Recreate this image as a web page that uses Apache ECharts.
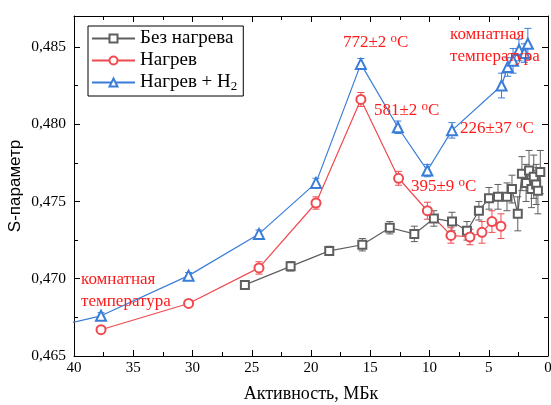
<!DOCTYPE html>
<html><head><meta charset="utf-8">
<script src="https://cdn.jsdelivr.net/npm/echarts@6/dist/echarts.min.js"></script>
<style>html,body{margin:0;padding:0;background:#fff}#c{width:551px;height:405px}</style>
</head><body><div id="c"></div>
<script>
// Без нагрева
const noHeatX = [25.58, 21.72, 18.46, 15.67, 13.35, 11.28, 9.63, 8.10, 6.84, 5.83, 4.98, 4.22, 3.46, 3.04, 2.55, 2.20, 1.85, 1.60, 1.40, 1.20, 1.00, 0.85, 0.65];
const noHeatY = [0.4696, 0.4708, 0.4718, 0.4722, 0.4733, 0.4729, 0.4739, 0.4737, 0.4731, 0.4744, 0.4752, 0.4753, 0.4753, 0.4758, 0.4742, 0.4768, 0.4762, 0.4770, 0.4758, 0.4766, 0.4761, 0.4757, 0.4769];
const noHeatErr = [0.0002, 0.0003, 0.0003, 0.0004, 0.0004, 0.0005, 0.0005, 0.0006, 0.0006, 0.0006, 0.0007, 0.0008, 0.0009, 0.0009, 0.0011, 0.0011, 0.0012, 0.0013, 0.0012, 0.0014, 0.0013, 0.0015, 0.0014];
// Нагрев
const heatX = [37.72, 30.33, 24.39, 19.58, 15.79, 12.61, 10.18, 8.19, 6.59, 5.57, 4.73, 3.97];
const heatY = [0.4667, 0.4684, 0.4707, 0.4749, 0.4816, 0.4765, 0.4744, 0.4728, 0.4727, 0.4730, 0.4737, 0.4734];
const heatErr = [0.0001, 0.0002, 0.0004, 0.0004, 0.00045, 0.00045, 0.00055, 0.0005, 0.0005, 0.0007, 0.0007, 0.0008];
// Нагрев + H2 (first point lies just outside the axis range)
const heatH2X = [42.0, 37.72, 30.33, 24.39, 19.58, 15.79, 12.67, 10.18, 8.10, 3.92, 3.40, 2.95, 2.45, 2.00, 1.70];
const heatH2Y = [0.46682, 0.4676, 0.4702, 0.4729, 0.4762, 0.4839, 0.4798, 0.4770, 0.4796, 0.4825, 0.4837, 0.4841, 0.4848, 0.4846, 0.4852];
const heatH2Err = [0, 0.0002, 0.0002, 0.00025, 0.0003, 0.00035, 0.0004, 0.0004, 0.0005, 0.0008, 0.0006, 0.0008, 0.0007, 0.0006, 0.001];

const seriesNames = ['Без нагрева', 'Нагрев', 'Нагрев + H2'];
const colors = ['#5e5e5e', '#f04a50', '#3a7dd8'];
const xTicks = [40, 35, 30, 25, 20, 15, 10, 5, 0];
const yTicks = [0.465, 0.470, 0.475, 0.480, 0.485];

const annotations = [
  {text: '772±2 {s|o}C', left: 343, top: 32},
  {text: '581±2 {s|o}C', left: 374, top: 100},
  {text: '395±9 {s|o}C', left: 411, top: 176},
  {text: '226±37 {s|o}C', left: 460, top: 118},
  {text: 'комнатная\nтемпература', left: 450, top: 24},
  {text: 'комнатная\nтемпература', left: 81, top: 269}
];

const zip = (xs, ys) => xs.map((x, i) => [x, ys[i]]);
const zipE = (xs, ys, es) => xs.map((x, i) => [x, ys[i], es[i]]);

function errSeries(data, color) {
  return {
    type: 'custom', xAxisIndex: 0, yAxisIndex: 0, silent: true, clip: true, z: 3,
    data: data,
    renderItem: function (params, api) {
      const e = api.value(2);
      if (!e) return null;
      const x = api.value(0), y = api.value(1);
      const hi = api.coord([x, y + e]);
      const lo = api.coord([x, y - e]);
      const w = 3.5;
      const st = {stroke: color, lineWidth: 1};
      return {type: 'group', children: [
        {type: 'line', shape: {x1: hi[0], y1: hi[1], x2: lo[0], y2: lo[1]}, style: st},
        {type: 'line', shape: {x1: hi[0] - w, y1: hi[1], x2: hi[0] + w, y2: hi[1]}, style: st},
        {type: 'line', shape: {x1: lo[0] - w, y1: lo[1], x2: lo[0] + w, y2: lo[1]}, style: st}
      ]};
    }
  };
}

function lineSeries(name, data, color, symbol, size) {
  return {
    name: name, type: 'line', data: data, symbol: symbol, symbolSize: size,
    clip: true, z: 4,
    lineStyle: {color: color, width: 1.2},
    itemStyle: {color: color, borderColor: color, borderWidth: 1},
    emphasis: {disabled: true}
  };
}

const serif = '"Liberation Serif", "DejaVu Serif", serif';
const chart = echarts.init(document.getElementById('c'), null, {renderer: 'canvas'});

const axisCommon = {
  axisLine: {show: true, onZero: false, lineStyle: {color: '#000', width: 1}},
  axisTick: {show: true, inside: true, length: 6, lineStyle: {color: '#000'}},
  minorTick: {show: true, splitNumber: 2, length: 4, lineStyle: {color: '#000'}},
  splitLine: {show: false}
};

chart.setOption({
  animation: false,
  backgroundColor: '#fff',
  grid: {left: 74, right: 3, top: 16, bottom: 49, containLabel: false, outerBoundsMode: 'none'},
  legend: {
    data: seriesNames,
    left: 88, top: 26,
    orient: 'vertical',
    backgroundColor: '#fff',
    borderColor: '#000', borderWidth: 1,
    padding: [3, 6, 3, 3],
    itemWidth: 43, itemHeight: 10, itemGap: 3,
    textStyle: {fontFamily: serif, fontSize: 19, color: '#000',
      rich: {sub: {fontFamily: serif, fontSize: 13, color: '#000', padding: [8, 0, 0, 0]}}},
    formatter: function (n) { return n === 'Нагрев + H2' ? 'Нагрев + H{sub|2}' : n; }
  },
  xAxis: [
    Object.assign({}, axisCommon, {
      type: 'value', position: 'bottom', inverse: true, min: 0, max: 40, interval: 5,
      axisLabel: {color: '#000', fontFamily: serif, fontSize: 15, margin: 5,
        formatter: v => xTicks.includes(v) ? String(v) : ''},
      name: 'Активность, МБк', nameLocation: 'middle', nameGap: 29,
      nameTextStyle: {fontFamily: serif, fontSize: 18, color: '#000'}
    }),
    Object.assign({}, axisCommon, {
      type: 'value', position: 'top', inverse: true, min: 0, max: 40, interval: 5,
      axisLabel: {show: false}
    })
  ],
  yAxis: [
    Object.assign({}, axisCommon, {
      type: 'value', position: 'left', min: 0.465, max: 0.487, interval: 0.005,
      axisLabel: {color: '#000', fontFamily: serif, fontSize: 15.5, margin: 8,
        formatter: v => yTicks.some(t => Math.abs(t - v) < 1e-7) ? v.toFixed(3).replace('.', ',') : ''},
      name: 'S-параметр', nameLocation: 'middle', nameGap: 50, nameMoveOverlap: false,
      nameTextStyle: {fontFamily: '"Liberation Sans Narrow", "Liberation Sans", sans-serif', fontSize: 17, color: '#000'}
    }),
    Object.assign({}, axisCommon, {
      type: 'value', position: 'right', min: 0.465, max: 0.487, interval: 0.005,
      axisLabel: {show: false}
    })
  ],
  series: [
    errSeries(zipE(noHeatX, noHeatY, noHeatErr), colors[0]),
    errSeries(zipE(heatX, heatY, heatErr), colors[1]),
    errSeries(zipE(heatH2X, heatH2Y, heatH2Err), colors[2]),
    lineSeries(seriesNames[0], zip(noHeatX, noHeatY), colors[0], 'emptyRect', 8),
    lineSeries(seriesNames[1], zip(heatX, heatY), colors[1], 'emptyCircle', 9),
    lineSeries(seriesNames[2], zip(heatH2X, heatH2Y), colors[2], 'emptyTriangle', 10)
  ],
  graphic: annotations.map(a => ({
    type: 'text', left: a.left, top: a.top, z: 100,
    style: {text: a.text, fill: '#ff1a1a', font: '17px ' + serif, lineHeight: 22,
      rich: {s: {fill: '#ff1a1a', fontFamily: serif, fontSize: 13, padding: [0, 0, 9, 0]}}}
  }))
});
</script></body></html>
